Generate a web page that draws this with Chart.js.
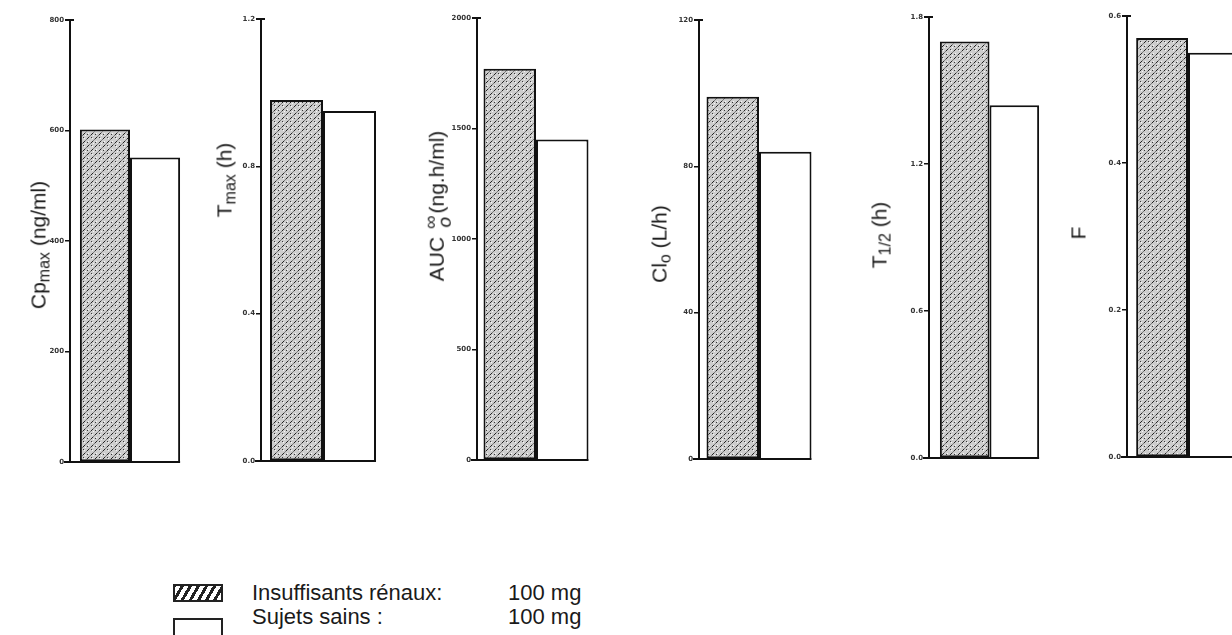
<!DOCTYPE html>
<html>
<head>
<meta charset="utf-8">
<script src="https://cdn.jsdelivr.net/npm/chart.js@4.4.1/dist/chart.umd.min.js"></script>
<style>
  html, body { margin: 0; padding: 0; background: #fff; width: 1232px; height: 635px; overflow: hidden; }
  body { position: relative; font-family: "Liberation Sans", Arial, sans-serif; color: #1a1a1a; }
  canvas { position: absolute; top: 0; }
  .ylab { position: absolute; white-space: nowrap; font-size: 21px; transform: translate(-50%, -50%) rotate(-90deg); line-height: 1; }
  .ylab sub { font-size: 16px; vertical-align: -4px; }
  .stack { display: inline-block; vertical-align: middle; line-height: 0.75; text-align: center; font-size: 19px; margin: 0 2px; }
  .legend { position: absolute; font-size: 22px; line-height: 1; }
  .sw { position: absolute; box-sizing: border-box; border: 2px solid #222; }
</style>
</head>
<body>
<script>
// ---- data ----
const categories = ['Cp max', 'T max', 'AUC', 'Cl o', 'T 1/2', 'F'];
const seriesNames = ['Insuffisants rénaux', 'Sujets sains'];
const insuffisants = [602, 0.98, 1770, 99, 1.70, 0.57];
const sains = [551, 0.95, 1450, 84, 1.44, 0.55];
const tickValues = [
  [0, 200, 400, 600, 800],
  [0, 0.4, 0.8, 1.2],
  [0, 500, 1000, 1500, 2000],
  [0, 40, 80, 120],
  [0, 0.6, 1.2, 1.8],
  [0, 0.2, 0.4, 0.6]
];
const tickLabels = [
  ['0', '200', '400', '600', '800'],
  ['0.0', '0.4', '0.8', '1.2'],
  ['0', '500', '1000', '1500', '2000'],
  ['0', '40', '80', '120'],
  ['0.0', '0.6', '1.2', '1.8'],
  ['0.0', '0.2', '0.4', '0.6']
];
const axisTitles = [
  'Cp<sub>max</sub> (ng/ml)',
  'T<sub>max</sub> (h)',
  'AUC <span class="stack">∞<br><i>o</i></span>(ng.h/ml)',
  'Cl<sub>o</sub> (L/h)',
  'T<sub>1/2</sub> (h)',
  'F'
];
const legendDose = ['100 mg', '100 mg'];

// ---- layout (page pixels) ----
const layout = [
  { axisX: 70,   top: 20, base: 462, area: 120, cp: 0.835, lx: 40,   ly: 245 },
  { axisX: 261,  top: 19, base: 461, area: 124, cp: 0.855, lx: 226,  ly: 180 },
  { axisX: 477,  top: 18, base: 460, area: 118, cp: 0.89,  lx: 438,  ly: 206 },
  { axisX: 699,  top: 20, base: 459, area: 120, cp: 0.875, lx: 661,  ly: 244 },
  { axisX: 929,  top: 17, base: 458, area: 121, cp: 0.82,  lx: 881,  ly: 235 },
  { axisX: 1127, top: 16, base: 457, area: 122, cp: 0.85,  lx: 1078, ly: 233 }
];
const LEFT = 40, H = 480;

function makePattern() {
  const c = document.createElement('canvas');
  c.width = 8; c.height = 8;
  const g = c.getContext('2d');
  g.fillStyle = '#cdcdcd';
  g.fillRect(0, 0, 8, 8);
  g.strokeStyle = '#222';
  g.lineWidth = 1;
  g.beginPath();
  g.moveTo(0.5, 3.5); g.lineTo(3.5, 0.5);
  g.moveTo(4.5, 7.5); g.lineTo(7.5, 4.5);
  g.stroke();
  g.fillStyle = '#3a3a3a';
  g.fillRect(5, 1, 1, 1);
  g.fillRect(1, 6, 1, 1);
  g.fillStyle = '#f6f6f6';
  g.fillRect(6, 2, 1, 1);
  g.fillRect(2, 5, 1, 1);
  g.fillRect(7, 7, 1, 1);
  return g.createPattern(c, 'repeat');
}
const hatch = makePattern();

const baselinePlugin = {
  id: 'baseline',
  afterDatasetsDraw(chart) {
    const ctx = chart.ctx;
    const y = chart.scales.y.getPixelForValue(0);
    const meta = chart.getDatasetMeta(chart.data.datasets.length - 1);
    const bar = meta.data[0];
    const right = bar.x + bar.width / 2;
    const top = chart.chartArea.top;
    ctx.save();
    ctx.strokeStyle = '#111';
    ctx.lineWidth = 2;
    ctx.beginPath();
    ctx.moveTo(chart.chartArea.left - 6, y);
    ctx.lineTo(right, y);
    // small cross-bar at top of the axis
    ctx.moveTo(chart.chartArea.left - 5, top);
    ctx.lineTo(chart.chartArea.left + 4, top);
    ctx.stroke();
    ctx.restore();
  }
};

layout.forEach((L, i) => {
  const cv = document.createElement('canvas');
  const W = LEFT + L.area + 4;
  cv.width = W; cv.height = H;
  cv.style.left = (L.axisX - LEFT) + 'px';
  cv.style.width = W + 'px'; cv.style.height = H + 'px';
  document.body.appendChild(cv);

  const maxV = tickValues[i][tickValues[i].length - 1];
  new Chart(cv.getContext('2d'), {
    type: 'bar',
    data: {
      labels: [categories[i]],
      datasets: [
        { label: seriesNames[0], data: [insuffisants[i]], backgroundColor: hatch, borderColor: '#111', borderWidth: 2, borderSkipped: false },
        { label: seriesNames[1], data: [sains[i]], backgroundColor: '#ffffff', borderColor: '#111', borderWidth: 2, borderSkipped: 'bottom' }
      ]
    },
    options: {
      responsive: false,
      animation: false,
      devicePixelRatio: 1,
      layout: { padding: { left: 0, right: 4, top: L.top, bottom: H - L.base } },
      datasets: { bar: { barPercentage: 1, categoryPercentage: L.cp } },
      plugins: { legend: { display: false }, tooltip: { enabled: false }, title: { display: false } },
      scales: {
        x: { display: false },
        y: {
          min: 0, max: maxV,
          afterFit(s) { s.width = LEFT; },
          afterBuildTicks(s) { s.ticks = tickValues[i].map(v => ({ value: v })); },
          border: { display: true, color: '#111', width: 2 },
          grid: { display: true, drawOnChartArea: false, drawTicks: true, tickLength: 5, color: '#111', lineWidth: 1.5 },
          ticks: {
            padding: 1,
            color: '#333',
            font: { family: 'DejaVu Sans', size: 7, weight: 'bold' },
            callback(v, idx) { return tickLabels[i][idx]; }
          }
        }
      }
    },
    plugins: [baselinePlugin]
  });

  const lab = document.createElement('div');
  lab.className = 'ylab';
  lab.style.left = L.lx + 'px';
  lab.style.top = L.ly + 'px';
  lab.innerHTML = axisTitles[i];
  document.body.appendChild(lab);
});

// legend
function addSwatch(x, y, w, h, bg, noBottom) {
  const d = document.createElement('div');
  d.className = 'sw';
  d.style.left = x + 'px'; d.style.top = y + 'px';
  d.style.width = w + 'px'; d.style.height = h + 'px';
  d.style.background = bg;
  if (noBottom) d.style.borderBottom = 'none';
  document.body.appendChild(d);
}
addSwatch(173, 584, 50, 18, 'repeating-linear-gradient(-60deg, #fff 0 4px, #222 4px 7px)', false);
addSwatch(173, 618, 50, 22, '#fff', true);
function addText(x, y, t) {
  const d = document.createElement('div');
  d.className = 'legend';
  d.style.left = x + 'px'; d.style.top = y + 'px';
  d.textContent = t;
  document.body.appendChild(d);
}
addText(252, 582, seriesNames[0] + ':');
addText(508, 582, legendDose[0]);
addText(252, 606, seriesNames[1] + ' :');
addText(508, 606, legendDose[1]);
</script>
</body>
</html>
